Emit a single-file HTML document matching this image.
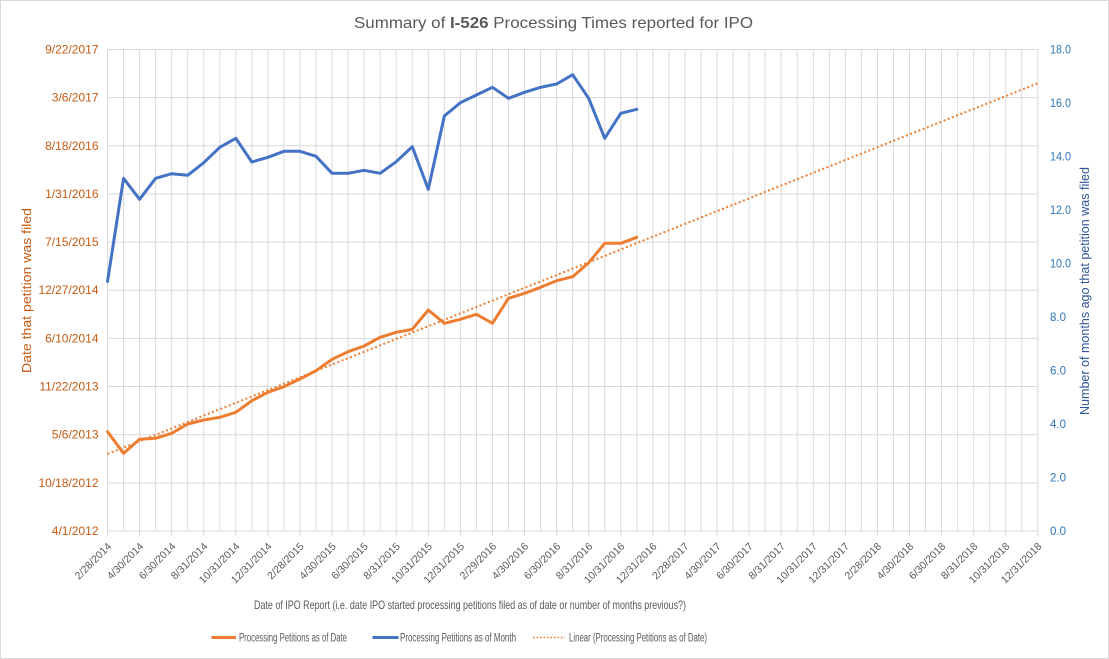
<!DOCTYPE html>
<html><head><meta charset="utf-8"><style>
html,body{margin:0;padding:0;background:#fff;}
svg{display:block;font-family:"Liberation Sans",sans-serif;}
</style></head><body>
<svg width="1109" height="659" viewBox="0 0 1109 659" xmlns="http://www.w3.org/2000/svg">
<rect x="0.5" y="0.5" width="1108" height="658" fill="#fff" stroke="#d9d9d9" stroke-width="1"/>
<text x="553.5" y="28" font-size="16" fill="#595959" text-anchor="middle" textLength="399" lengthAdjust="spacingAndGlyphs">Summary of <tspan font-weight="bold">I-526</tspan> Processing Times reported for IPO</text>
<g stroke="#d9d9d9" stroke-width="1" fill="none">
<path d="M107.5 49.5H1038M107.5 97.65H1038M107.5 145.8H1038M107.5 193.95H1038M107.5 242.1H1038M107.5 290.25H1038M107.5 338.4H1038M107.5 386.55H1038M107.5 434.7H1038M107.5 482.85H1038M107.5 531H1038"/>
<path d="M107.5 49.5V536M123.54 49.5V531M139.58 49.5V536M155.62 49.5V531M171.66 49.5V536M187.7 49.5V531M203.74 49.5V536M219.78 49.5V531M235.82 49.5V536M251.86 49.5V531M267.9 49.5V536M283.94 49.5V531M299.98 49.5V536M316.02 49.5V531M332.06 49.5V536M348.1 49.5V531M364.14 49.5V536M380.18 49.5V531M396.22 49.5V536M412.26 49.5V531M428.3 49.5V536M444.34 49.5V531M460.38 49.5V536M476.42 49.5V531M492.46 49.5V536M508.5 49.5V531M524.54 49.5V536M540.58 49.5V531M556.62 49.5V536M572.66 49.5V531M588.7 49.5V536M604.74 49.5V531M620.78 49.5V536M636.82 49.5V531M652.86 49.5V536M668.9 49.5V531M684.94 49.5V536M700.98 49.5V531M717.02 49.5V536M733.06 49.5V531M749.1 49.5V536M765.14 49.5V531M781.18 49.5V536M797.22 49.5V531M813.26 49.5V536M829.3 49.5V531M845.34 49.5V536M861.38 49.5V531M877.42 49.5V536M893.46 49.5V531M909.5 49.5V536M925.54 49.5V531M941.58 49.5V536M957.62 49.5V531M973.66 49.5V536M989.7 49.5V531M1005.74 49.5V536M1021.78 49.5V531M1037.82 49.5V536"/>
</g>
<g font-size="12" fill="#c55a11" text-anchor="end">
<text x="98.5" y="53.5">9/22/2017</text>
<text x="98.5" y="101.6">3/6/2017</text>
<text x="98.5" y="149.8">8/18/2016</text>
<text x="98.5" y="197.9">1/31/2016</text>
<text x="98.5" y="246.1">7/15/2015</text>
<text x="98.5" y="294.2">12/27/2014</text>
<text x="98.5" y="342.4">6/10/2014</text>
<text x="98.5" y="390.5">11/22/2013</text>
<text x="98.5" y="438.7">5/6/2013</text>
<text x="98.5" y="486.8">10/18/2012</text>
<text x="98.5" y="535">4/1/2012</text>
</g>
<g font-size="11.5" fill="#2e75b6">
<text x="1050" y="53.5" textLength="21" lengthAdjust="spacingAndGlyphs">18.0</text>
<text x="1050" y="107" textLength="21" lengthAdjust="spacingAndGlyphs">16.0</text>
<text x="1050" y="160.5" textLength="21" lengthAdjust="spacingAndGlyphs">14.0</text>
<text x="1050" y="214" textLength="21" lengthAdjust="spacingAndGlyphs">12.0</text>
<text x="1050" y="267.5" textLength="21" lengthAdjust="spacingAndGlyphs">10.0</text>
<text x="1050" y="321">8.0</text>
<text x="1050" y="374.5">6.0</text>
<text x="1050" y="428">4.0</text>
<text x="1050" y="481.5">2.0</text>
<text x="1050" y="535">0.0</text>
</g>
<text transform="translate(31,290.5) rotate(-90)" font-size="13" fill="#c65911" text-anchor="middle" textLength="165" lengthAdjust="spacingAndGlyphs">Date that petition was filed</text>
<text transform="translate(1089,291) rotate(-90)" font-size="13" fill="#2f5597" text-anchor="middle" textLength="248" lengthAdjust="spacingAndGlyphs">Number of months ago that petition was filed</text>
<g font-size="10.5" fill="#595959" text-anchor="end">
<text transform="translate(112,547) rotate(-45)">2/28/2014</text>
<text transform="translate(144.1,547) rotate(-45)">4/30/2014</text>
<text transform="translate(176.2,547) rotate(-45)">6/30/2014</text>
<text transform="translate(208.2,547) rotate(-45)">8/31/2014</text>
<text transform="translate(240.3,547) rotate(-45)">10/31/2014</text>
<text transform="translate(272.4,547) rotate(-45)">12/31/2014</text>
<text transform="translate(304.5,547) rotate(-45)">2/28/2015</text>
<text transform="translate(336.6,547) rotate(-45)">4/30/2015</text>
<text transform="translate(368.6,547) rotate(-45)">6/30/2015</text>
<text transform="translate(400.7,547) rotate(-45)">8/31/2015</text>
<text transform="translate(432.8,547) rotate(-45)">10/31/2015</text>
<text transform="translate(464.9,547) rotate(-45)">12/31/2015</text>
<text transform="translate(497,547) rotate(-45)">2/29/2016</text>
<text transform="translate(529,547) rotate(-45)">4/30/2016</text>
<text transform="translate(561.1,547) rotate(-45)">6/30/2016</text>
<text transform="translate(593.2,547) rotate(-45)">8/31/2016</text>
<text transform="translate(625.3,547) rotate(-45)">10/31/2016</text>
<text transform="translate(657.4,547) rotate(-45)">12/31/2016</text>
<text transform="translate(689.4,547) rotate(-45)">2/28/2017</text>
<text transform="translate(721.5,547) rotate(-45)">4/30/2017</text>
<text transform="translate(753.6,547) rotate(-45)">6/30/2017</text>
<text transform="translate(785.7,547) rotate(-45)">8/31/2017</text>
<text transform="translate(817.8,547) rotate(-45)">10/31/2017</text>
<text transform="translate(849.8,547) rotate(-45)">12/31/2017</text>
<text transform="translate(881.9,547) rotate(-45)">2/28/2018</text>
<text transform="translate(914,547) rotate(-45)">4/30/2018</text>
<text transform="translate(946.1,547) rotate(-45)">6/30/2018</text>
<text transform="translate(978.2,547) rotate(-45)">8/31/2018</text>
<text transform="translate(1010.2,547) rotate(-45)">10/31/2018</text>
<text transform="translate(1042.3,547) rotate(-45)">12/31/2018</text>
</g>
<text x="470" y="609" font-size="12" fill="#595959" text-anchor="middle" textLength="432" lengthAdjust="spacingAndGlyphs">Date of IPO Report  (i.e. date IPO started processing petitions filed as of date or number of months previous?)</text>
<line x1="107.5" y1="454" x2="1037.8" y2="83.3" stroke="#ed7d31" stroke-width="2" stroke-dasharray="2,2.5"/>
<polyline fill="none" stroke="#ed7d31" stroke-width="3" stroke-linejoin="round" stroke-linecap="round" points="107.5,431.7 123.54,453.3 139.58,439.3 155.62,438.3 171.66,433.3 187.7,424 203.74,420 219.78,417.3 235.82,412.3 251.86,400.7 267.9,392.3 283.94,386.7 299.98,379 316.02,370.7 332.06,359.3 348.1,351.7 364.14,346 380.18,337.3 396.22,332.3 412.26,329.3 428.3,310 444.34,323.3 460.38,319.3 476.42,314.3 492.46,323.3 508.5,298.3 524.54,293.3 540.58,287.3 556.62,280.7 572.66,276.7 588.7,262.7 604.74,243.3 620.78,243.3 636.82,237.3"/>
<polyline fill="none" stroke="#4472c4" stroke-width="3" stroke-linejoin="round" stroke-linecap="round" points="107.5,281.5 123.54,178.3 139.58,199.3 155.62,178.3 171.66,173.7 187.7,175.3 203.74,162.7 219.78,147.3 235.82,138.3 251.86,162 267.9,157.3 283.94,151.3 299.98,151.3 316.02,156.3 332.06,173.3 348.1,173.3 364.14,170.3 380.18,173.3 396.22,161.7 412.26,146.7 428.3,189.3 444.34,116 460.38,102.7 476.42,95 492.46,87.3 508.5,98.3 524.54,92.3 540.58,87.3 556.62,84 572.66,74.7 588.7,98.3 604.74,138.3 620.78,113.3 636.82,109.3"/>
<g font-size="11.5" fill="#595959">
<line x1="211.5" y1="637.5" x2="236" y2="637.5" stroke="#ed7d31" stroke-width="3"/>
<text x="239" y="641.5" textLength="108" lengthAdjust="spacingAndGlyphs">Processing Petitions as of Date</text>
<line x1="372.5" y1="637.5" x2="398.5" y2="637.5" stroke="#4472c4" stroke-width="3"/>
<text x="400" y="641.5" textLength="116" lengthAdjust="spacingAndGlyphs">Processing Petitions as of Month</text>
<line x1="533" y1="637.5" x2="565" y2="637.5" stroke="#ed7d31" stroke-width="1.5" stroke-dasharray="1.5,2"/>
<text x="569" y="641.5" textLength="138" lengthAdjust="spacingAndGlyphs">Linear (Processing Petitions as of Date)</text>
</g>
</svg>
</body></html>
